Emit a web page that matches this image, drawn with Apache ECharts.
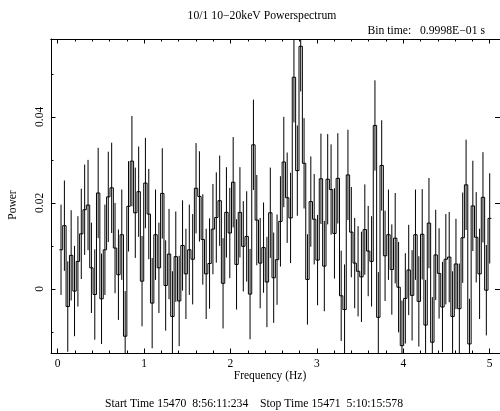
<!DOCTYPE html>
<html>
<head>
<meta charset="utf-8">
<script src="https://cdn.jsdelivr.net/npm/echarts@6/dist/echarts.min.js"></script>
<style>
  html, body { margin: 0; padding: 0; background: #fff; }
  #chart { width: 500px; height: 411px; }
</style>
</head>
<body>
<div id="chart"></div>
<script>
// 256-point FFT of 0.1 s bins -> 128 frequency bins up to 5 Hz
const binWidth = 0.0390625

const power = [
  0.0091, 0.0147, -0.0041, 0.0078, -0.0005, 0.0064, 0.0128, 0.0184, 0.0195, 0.0049,
  -0.0013, 0.0223, -0.0023, 0.0091, 0.0214, 0.0235, 0.0095, 0.0033, 0.0126, -0.0110,
  0.0192, 0.0297, 0.0177, 0.0226, 0.0018, 0.0246, 0.0174, -0.0033, 0.0126, 0.0049,
  0.0222, 0.0008, 0.0081, -0.0064, 0.0075, -0.0028, 0.0101, 0.0035, 0.0091, 0.0069,
  0.0234, 0.0215, 0.0115, 0.0035, 0.0059, 0.0139, 0.0166, 0.0205, 0.0013, 0.0178,
  0.0130, 0.0248, 0.0057, 0.0178, 0.0099, 0.0122, -0.0012, 0.0335, 0.0160, 0.0060,
  0.0096, 0.0016, 0.0177, 0.0026, 0.0068, 0.0157, 0.0295, 0.0212, 0.0165, 0.0492,
  0.0275, 0.0564, 0.0292, 0.0022, 0.0203, 0.0162, 0.0067, 0.0256, 0.0053, 0.0255,
  0.0231, 0.0129, 0.0257, -0.0016, -0.0048, 0.0265, 0.0132, 0.0060, 0.0041, 0.0028,
  0.0138, 0.0088, 0.0064, 0.0380, -0.0066, 0.0287, 0.0077, 0.0126, 0.0045, 0.0118,
  0.0004, -0.0132, -0.0022, 0.0044, -0.0015, 0.0126, -0.0029, 0.0127, -0.0084, 0.0153,
  -0.0124, 0.0079, 0.0036, -0.0042, 0.0069, 0.0074, -0.0064, 0.0058, -0.0046, 0.0119,
  0.0242, -0.0128, 0.0193, 0.0120, 0.0035, 0.0213, -0.0003, 0.0164,
]
// error bars look about the same height everywhere
const powerErr = 0.0105

const freqTicks = [0, 1, 2, 3, 4, 5]
const freqMinorTicks = [0.2, 0.4, 0.6, 0.8, 1.2, 1.4, 1.6, 1.8, 2.2, 2.4, 2.6, 2.8,
  3.2, 3.4, 3.6, 3.8, 4.2, 4.4, 4.6, 4.8]
const powerTicks = [0, 0.02, 0.04]
const powerMinorTicks = [-0.01, 0.01, 0.03, 0.05]

const bins = power.map((p, i) => [
  (i + 1) * binWidth,
  p,
  i + 1 < power.length ? power[i + 1] : p,
])

const FONT = '"Liberation Serif", "DejaVu Serif", serif'

const tickAxis = (position, ticks, len, labels, extra) => ({
  type: "value",
  position,
  gridIndex: 0,
  splitLine: { show: false },
  axisLine: { show: !!labels || position === "top" || position === "right", onZero: false, lineStyle: { color: "#000", width: 1 } },
  axisTick: { show: true, inside: true, length: len, customValues: ticks, lineStyle: { color: "#000", width: 1 } },
  axisLabel: labels
    ? { show: true, customValues: ticks, color: "#000", fontFamily: FONT, fontSize: 11.5, ...labels }
    : { show: false },
  ...extra,
})

// the right frame edge sits just past the picture
const xRange = { min: -0.077, max: 5.119 }
const yRange = { min: -0.0149, max: 0.0581 }

const option = {
  animation: false,
  backgroundColor: "#fff",
  grid: { left: 51, right: -2, top: 39, bottom: 58, containLabel: false },
  xAxis: [
    tickAxis("bottom", freqTicks, 4.5, { margin: 5 }, xRange),
    tickAxis("bottom", freqMinorTicks, 2.5, null, xRange),
    tickAxis("top", freqTicks, 4.5, null, xRange),
    tickAxis("top", freqMinorTicks, 2.5, null, xRange),
  ],
  yAxis: [
    tickAxis("left", powerTicks, 4.5, { rotate: 90, margin: 5 }, yRange),
    tickAxis("left", powerMinorTicks, 2.5, null, yRange),
    tickAxis("right", powerTicks, 5, null, yRange),
  ],
  series: [
    {
      type: "custom",
      xAxisIndex: 0,
      yAxisIndex: 0,
      clip: true,
      data: bins,
      encode: { x: 0, y: 1 },
      renderItem: (params, api) => {
        const f = api.value(0)
        const p = api.value(1)
        const next = api.value(2)
        const left = api.coord([f - binWidth / 2, p])
        const right = api.coord([f + binWidth / 2, p])
        const rightNext = api.coord([f + binWidth / 2, next])
        const top = api.coord([f, p + powerErr])
        const bottom = api.coord([f, p - powerErr])
        return {
          type: "group",
          children: [
            {
              type: "polyline",
              shape: { points: [left, right, rightNext] },
              style: { stroke: "#000", lineWidth: 1, fill: null },
            },
            {
              type: "line",
              shape: { x1: top[0], y1: top[1], x2: bottom[0], y2: bottom[1] },
              style: { stroke: "#000", lineWidth: 1 },
            },
          ],
        }
      },
    },
  ],
  graphic: [
    {
      type: "text", x: 262, y: 16,
      style: { text: "10/1 10\u221220keV Powerspectrum", font: "11.7px " + FONT, fill: "#000",
        align: "center", verticalAlign: "middle", textAlign: "center", textVerticalAlign: "middle" },
    },
    {
      type: "text", x: 485, y: 31,
      style: { text: "Bin time:   0.9998E\u221201 s", font: "11.7px " + FONT, fill: "#000",
        align: "right", verticalAlign: "middle", textAlign: "right", textVerticalAlign: "middle" },
    },
    {
      type: "text", x: 13, y: 205, rotation: Math.PI / 2,
      style: { text: "Power", font: "11.5px " + FONT, fill: "#000",
        align: "center", verticalAlign: "middle", textAlign: "center", textVerticalAlign: "middle" },
    },
    {
      type: "text", x: 270, y: 376,
      style: { text: "Frequency (Hz)", font: "11.5px " + FONT, fill: "#000",
        align: "center", verticalAlign: "middle", textAlign: "center", textVerticalAlign: "middle" },
    },
    {
      type: "text", x: 254, y: 404,
      style: { text: "Start Time 15470  8:56:11:234    Stop Time 15471  5:10:15:578", font: "11.7px " + FONT, fill: "#000",
        align: "center", verticalAlign: "middle", textAlign: "center", textVerticalAlign: "middle" },
    },
  ],
}

const chart = echarts.init(document.getElementById("chart"))
chart.setOption(option)
window.addEventListener("resize", () => chart.resize())
</script>
</body>
</html>
